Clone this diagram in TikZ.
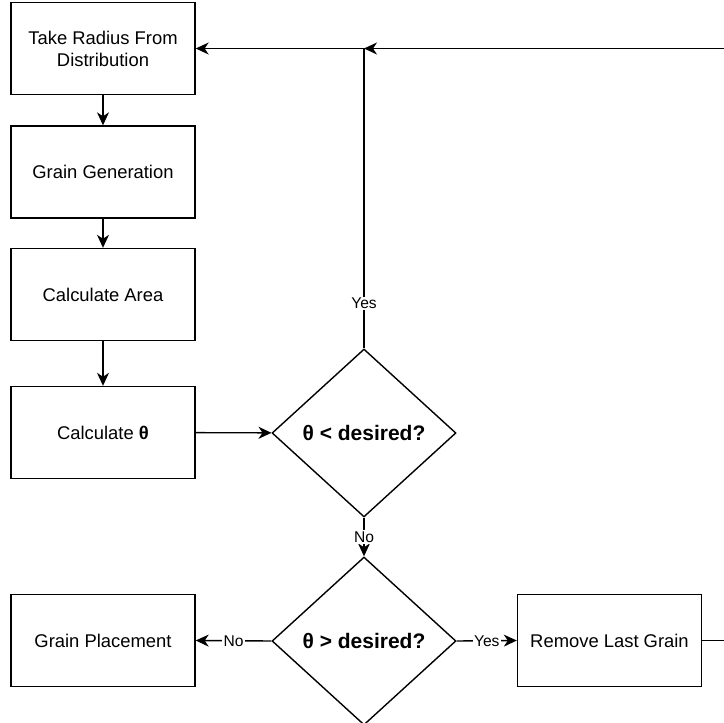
\documentclass[tikz,border=0pt]{standalone}
\usepackage{fontspec}
\setmainfont{Liberation Sans}
\usepackage{tikz}
\usetikzlibrary{arrows.meta, shapes.geometric, calc}
\tikzset{>={Stealth[length=6.5pt, width=6pt, inset=2pt]}}
\tikzset{
  stepbox/.style={draw, line width=0.7pt, minimum width=92pt, minimum height=46pt,
    inner sep=0pt, align=center, font=\fontsize{9.2}{11}\selectfont},
  test/.style={draw, diamond, line width=0.7pt, minimum width=92pt, minimum height=84pt,
    inner sep=0pt, aspect=1.1, font=\fontsize{10.5}{12.6}\selectfont\bfseries},
  flow/.style={->, line width=0.7pt},
  lbl/.style={fill=white, inner sep=0.6pt, font=\fontsize{7.8}{9}\selectfont}
}

\begin{document}
\begin{tikzpicture}[x=0.5pt, y=-0.5pt]
                    \useasboundingbox (0,0) rectangle (724,723);

                    \node[stepbox] (radius) at (103, 48.5) {Take Radius From\\Distribution};
                    \node[stepbox] (gen) at (103, 172) {Grain Generation};
                    \node[stepbox] (area) at (103, 294.5) {Calculate Area};
                    \node[stepbox] (theta) at (103, 432.5) {Calculate \textbf{θ}};
                    \node[stepbox] (place) at (103, 640.5) {Grain Placement};
                    \node[stepbox] (remove) at (609.5, 640.5) {Remove Last Grain};

                    \node[test] (less) at (364, 433) {θ < desired?};
                    \node[test] (more) at (364, 641) {θ > desired?};

                    \coordinate (join) at (less.north |- radius.east);
                    \coordinate (corner) at (732, 640.5); % off the page

                    \draw[flow] (radius) -- (gen);
                    \draw[flow] (gen) -- (area);
                    \draw[flow] (area) -- (theta);
                    \draw[flow] (theta) -- (less);

                    \draw[flow] (less.north) -- node[lbl, pos=0.15] {Yes}
                    (join) -- (radius.east);
                    \draw[flow] (less.south) -- node[lbl] {No} (more.north);

                    \draw[flow] (more.west) -- node[lbl] {No} (place.east);
                    \draw[flow] (more.east) -- node[lbl] {Yes} (remove.west);

                    \draw[flow] (remove.east) -- (corner) -- (corner |- join)
                    -- (join);
\end{tikzpicture}
\end{document}
